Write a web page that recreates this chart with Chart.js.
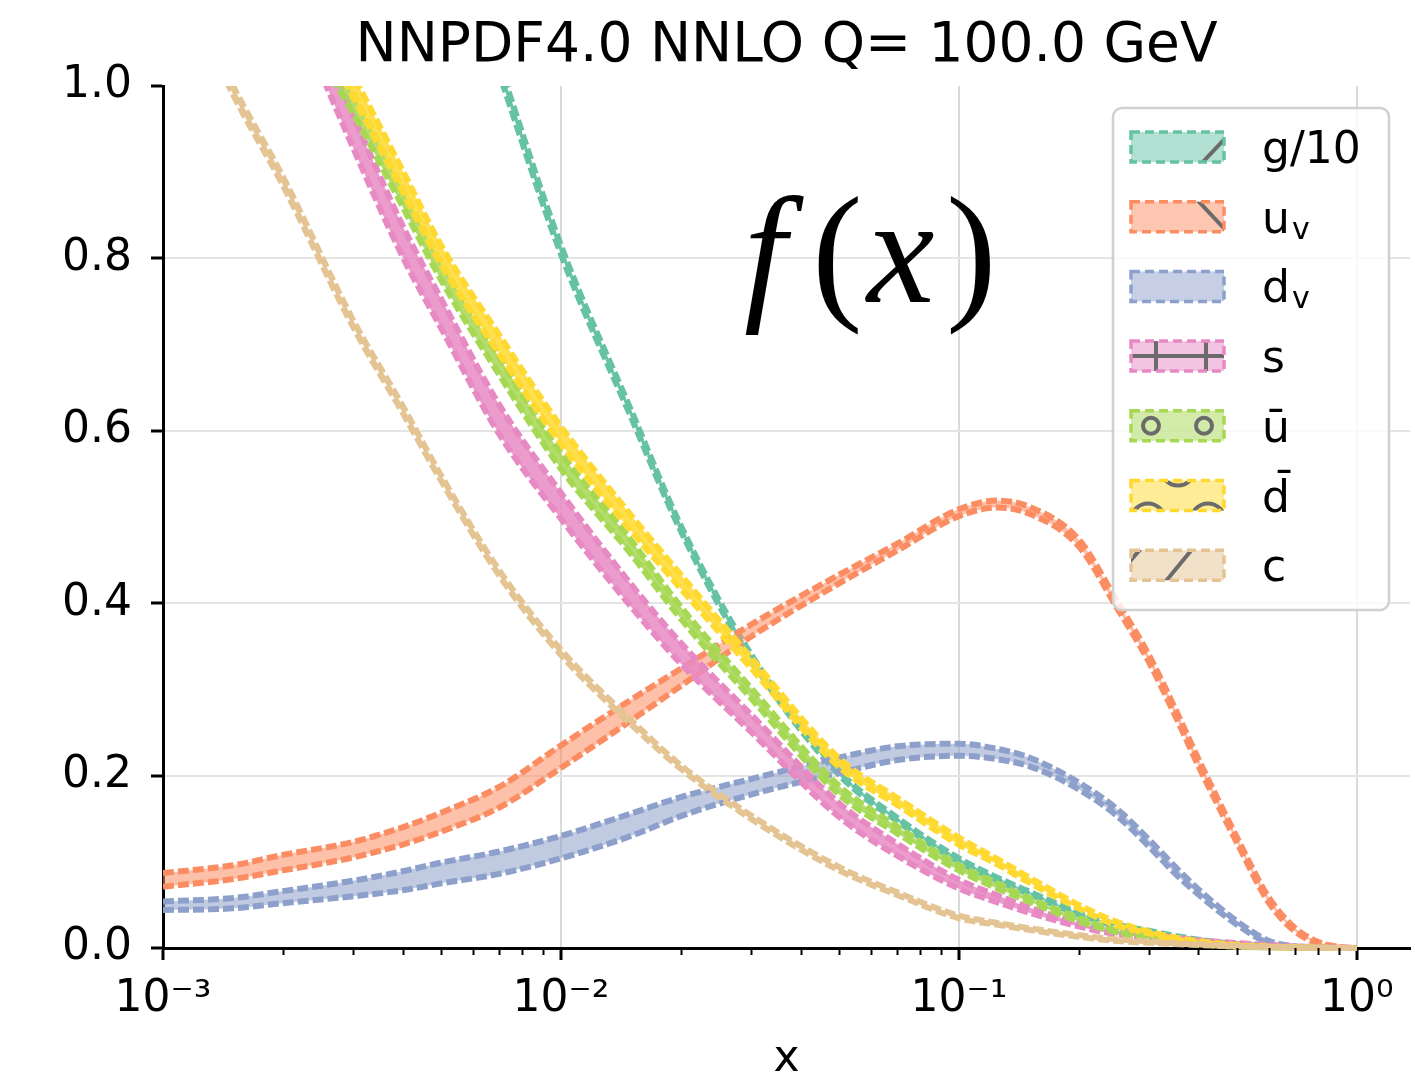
<!DOCTYPE html>
<html>
<head>
  <title>NNPDF4.0 NNLO PDFs at Q = 100 GeV</title>
  <script src="https://cdn.jsdelivr.net/npm/chart.js"></script>
  <style>
    body {
      margin: 0;
      background: #fff;
    }
    #wrap {
      width: 1415px;
      height: 1077px;
      position: relative;
    }
  </style>
</head>
<body>
  <div id="wrap"><canvas id="pdfChart"></canvas></div>

  <script>
    // x grid shared by every flavour
    const xs = [0.001, 0.0015, 0.002, 0.003, 0.004, 0.005, 0.007, 0.01, 0.015, 0.02, 0.03, 0.05, 0.07,
                0.1, 0.125, 0.15, 0.2, 0.25, 0.3, 0.35, 0.4, 0.5, 0.6, 0.7, 0.8, 0.9, 1.0];

    // central values of x*f(x) and the half width of the 1-sigma band
    const g10     = [3.0, 2.4, 2.0, 1.6, 1.38, 1.22, 1.02, 0.81, 0.62, 0.487, 0.338, 0.203, 0.149,
                     0.102, 0.08, 0.064, 0.04, 0.026, 0.019, 0.013, 0.009, 0.004, 0.002, 0.0008, 0.0003, 0.0001, 0];
    const g10Err  = [0.02, 0.015, 0.012, 0.009, 0.008, 0.007, 0.006, 0.005, 0.004, 0.003, 0.003, 0.002, 0.002,
                     0.002, 0.0015, 0.0015, 0.001, 0.001, 0.001, 0.001, 0.0007, 0.0005, 0.0003, 0.0002, 0.0001, 0, 0];
    const uv      = [0.079, 0.088, 0.099, 0.114, 0.13, 0.146, 0.175, 0.222, 0.276, 0.314, 0.368, 0.428, 0.465,
                     0.505, 0.515, 0.508, 0.47, 0.398, 0.336, 0.273, 0.215, 0.125, 0.056, 0.021, 0.006, 0.001, 0];
    const uvErr   = [0.008, 0.008, 0.009, 0.009, 0.01, 0.011, 0.012, 0.013, 0.012, 0.01, 0.007, 0.005, 0.004,
                     0.004, 0.004, 0.004, 0.004, 0.004, 0.004, 0.004, 0.004, 0.003, 0.003, 0.002, 0.001, 0.0005, 0];
    const dv      = [0.049, 0.052, 0.059, 0.069, 0.078, 0.087, 0.099, 0.117, 0.143, 0.164, 0.187, 0.212, 0.226,
                     0.23, 0.225, 0.216, 0.188, 0.157, 0.122, 0.09, 0.065, 0.029, 0.007, 0.001, 0.0003, 0.0001, 0];
    const dvErr   = [0.005, 0.006, 0.007, 0.009, 0.011, 0.012, 0.013, 0.013, 0.013, 0.011, 0.009, 0.009, 0.008,
                     0.007, 0.006, 0.005, 0.004, 0.004, 0.004, 0.004, 0.003, 0.002, 0.0015, 0.001, 0.0005, 0, 0];
    const s       = [1.5, 1.28, 1.14, 0.948, 0.82, 0.736, 0.613, 0.513, 0.409, 0.342, 0.261, 0.16, 0.114,
                     0.074, 0.057, 0.044, 0.027, 0.018, 0.014, 0.011, 0.008, 0.005, 0.003, 0.0015, 0.0008, 0.0003, 0];
    const sErr    = [0.025, 0.022, 0.02, 0.019, 0.018, 0.017, 0.017, 0.015, 0.013, 0.012, 0.01, 0.008, 0.007,
                     0.005, 0.004, 0.003, 0.002, 0.002, 0.0015, 0.001, 0.001, 0.0007, 0.0005, 0.0003, 0.0002, 0.0001, 0];
    const ubar    = [1.45, 1.27, 1.12, 0.98, 0.87, 0.785, 0.675, 0.565, 0.465, 0.389, 0.296, 0.183, 0.137,
                     0.093, 0.072, 0.056, 0.033, 0.019, 0.012, 0.008, 0.005, 0.002, 0.001, 0.0005, 0.0002, 0.0001, 0];
    const ubarErr = [0.014, 0.013, 0.012, 0.011, 0.01, 0.01, 0.01, 0.009, 0.008, 0.007, 0.006, 0.005, 0.004,
                     0.003, 0.003, 0.002, 0.002, 0.001, 0.001, 0.001, 0.0007, 0.0005, 0.0003, 0.0002, 0.0001, 0, 0];
    const dbar    = [1.5, 1.3, 1.14, 1.0, 0.89, 0.804, 0.70, 0.595, 0.493, 0.425, 0.331, 0.215, 0.17,
                     0.124, 0.1, 0.079, 0.048, 0.028, 0.018, 0.011, 0.007, 0.003, 0.0015, 0.0007, 0.0003, 0.0001, 0];
    const dbarErr = [0.016, 0.014, 0.013, 0.012, 0.012, 0.011, 0.011, 0.01, 0.009, 0.008, 0.006, 0.005, 0.004,
                     0.004, 0.003, 0.003, 0.002, 0.002, 0.001, 0.001, 0.001, 0.0005, 0.0003, 0.0002, 0.0001, 0, 0];
    const c       = [1.17, 0.995, 0.89, 0.725, 0.625, 0.545, 0.435, 0.343, 0.262, 0.21, 0.152, 0.092, 0.063,
                     0.036, 0.028, 0.022, 0.014, 0.009, 0.007, 0.005, 0.004, 0.002, 0.001, 0.0005, 0.0002, 0.0001, 0];
    const cErr    = [0.006, 0.005, 0.005, 0.004, 0.004, 0.003, 0.003, 0.003, 0.0025, 0.002, 0.002, 0.002, 0.0015,
                     0.0015, 0.001, 0.001, 0.001, 0.001, 0.0008, 0.0005, 0.0005, 0.0003, 0.0002, 0.0001, 0, 0, 0];

    const yTicks = [0, 0.2, 0.4, 0.6, 0.8, 1.0];

    // legend text (main part + subscript) and hatch style per flavour
    const labels  = ['g/10', 'u', 'd', 's', '\u016b', 'd\u0304', 'c'];
    const subs    = ['', 'v', 'v', '', '', '', ''];
    const hatches = ['/', '\\', '', '+', 'o', 'O', '/-'];
    const colors  = ['#66c2a5', '#fc8d62', '#8da0cb', '#e78ac3', '#a6d854', '#ffd92f', '#e5c494'];
    const bandAlpha = [0.85, 0.55, 0.55, 0.85, 0.85, 0.85, 0.85];

    const centrals = [g10, uv, dv, s, ubar, dbar, c];
    const errors   = [g10Err, uvErr, dvErr, sErr, ubarErr, dbarErr, cErr];

    Chart.defaults.font.family = 'DejaVu Sans';
    Chart.defaults.color = '#000';

    function withAlpha(hex, a) {
      const n = parseInt(hex.slice(1), 16);
      return `rgba(${(n >> 16) & 255}, ${(n >> 8) & 255}, ${n & 255}, ${a})`;
    }

    // every flavour is a band: upper edge filled down to lower edge, both dashed
    const datasets = [];
    centrals.forEach((vals, i) => {
      const common = {
        borderColor: colors[i],
        borderWidth: 6,
        borderDash: [11, 4],
        pointRadius: 0,
        cubicInterpolationMode: 'monotone',
        clip: {left: 0, top: 0, right: 0, bottom: 4},
        order: centrals.length - i
      };
      datasets.push({
        ...common,
        label: labels[i] + subs[i],
        data: xs.map((x, k) => ({x, y: vals[k] + errors[i][k]})),
        fill: '+1',
        backgroundColor: withAlpha(colors[i], bandAlpha[i])
      });
      datasets.push({
        ...common,
        label: labels[i] + subs[i] + ' low',
        data: xs.map((x, k) => ({x, y: Math.max(vals[k] - errors[i][k], 0)})),
        fill: false
      });
    });

    const SUP = {'-': '\u207b', '0': '\u2070', '1': '\u00b9', '2': '\u00b2', '3': '\u00b3'};
    function isDecade(v) {
      const l = Math.log10(v);
      return Math.abs(l - Math.round(l)) < 1e-9;
    }

    // small ticks at 2..9 of each decade
    const minorTicks = {
      id: 'minorTicks',
      afterDraw(chart) {
        const sx = chart.scales.x;
        const ctx = chart.ctx;
        ctx.save();
        ctx.strokeStyle = '#000';
        ctx.lineWidth = 2;
        sx.ticks.forEach(t => {
          if (t.value > 1 || isDecade(t.value)) return;
          const m = t.value / Math.pow(10, Math.floor(Math.log10(t.value) + 1e-9));
          if (Math.abs(m - Math.round(m)) > 1e-6) return;
          const px = Math.round(sx.getPixelForValue(t.value)) + 0.5;
          ctx.beginPath();
          ctx.moveTo(px, sx.top);
          ctx.lineTo(px, sx.top + 7);
          ctx.stroke();
        });
        ctx.restore();
      }
    };

    function drawHatch(ctx, type, x, y, w, h) {
      ctx.save();
      ctx.beginPath();
      ctx.rect(x, y, w, h);
      ctx.clip();
      ctx.strokeStyle = '#6b6b6b';
      ctx.lineWidth = 4;
      ctx.lineCap = 'butt';
      const line = (x1, y1, x2, y2) => { ctx.beginPath(); ctx.moveTo(x1, y1); ctx.lineTo(x2, y2); ctx.stroke(); };
      if (type === '/') {
        line(x + 70, y + h + 2, x + 102, y - 2);
      } else if (type === '\\') {
        line(x + 66, y - 2, x + 98, y + h + 2);
      } else if (type === '+') {
        line(x, y + h / 2, x + w, y + h / 2);
        line(x + 25, y, x + 25, y + h);
        line(x + 75, y, x + 75, y + h);
      } else if (type === 'o') {
        [x + 20, x + 73].forEach(cx => { ctx.beginPath(); ctx.arc(cx, y + h / 2, 8, 0, Math.PI * 2); ctx.stroke(); });
      } else if (type === 'O') {
        [[x + 17, y + h + 10], [x + 77, y + h + 10], [x + 47, y - 12]].forEach(([cx, cy]) => {
          ctx.beginPath(); ctx.arc(cx, cy, 17, 0, Math.PI * 2); ctx.stroke();
        });
      } else if (type === '/-') {
        line(x + 34, y + h + 2, x + 62, y - 2);
        line(x - 2, y + 12, x + 12, y - 4);
      }
      ctx.restore();
    }

    // framed legend with hatched patches, plus the f(x) annotation
    const pdfLegend = {
      id: 'pdfLegend',
      afterDraw(chart) {
        const {ctx, chartArea: a} = chart;
        const bx = a.right - 297, by = a.top + 22, bw = 276, bh = 502;
        ctx.save();
        ctx.beginPath();
        ctx.roundRect(bx, by, bw, bh, 9);
        ctx.fillStyle = 'rgba(255, 255, 255, 0.8)';
        ctx.fill();
        ctx.strokeStyle = '#d0d0d0';
        ctx.lineWidth = 2.5;
        ctx.stroke();

        labels.forEach((lab, i) => {
          const cy = by + 39 + i * 69.7;
          const px = bx + 18, pw = 93, ph = 30, py = cy - ph / 2;
          ctx.fillStyle = withAlpha(colors[i], 0.5);
          ctx.fillRect(px, py, pw, ph);
          drawHatch(ctx, hatches[i], px, py, pw, ph);
          ctx.setLineDash([9, 5]);
          ctx.strokeStyle = colors[i];
          ctx.lineWidth = 3.5;
          ctx.strokeRect(px, py, pw, ph);
          ctx.setLineDash([]);

          ctx.fillStyle = '#000';
          ctx.textAlign = 'left';
          ctx.textBaseline = 'alphabetic';
          ctx.font = '44px "DejaVu Sans"';
          const tx = bx + 149;
          ctx.fillText(lab, tx, cy + 16);
          if (subs[i]) {
            const wMain = ctx.measureText(lab).width;
            ctx.font = '30px "DejaVu Sans"';
            ctx.fillText(subs[i], tx + wMain + 2, cy + 22);
          }
        });

        // f(x) written glyph by glyph, ink left edges placed explicitly
        const glyphs = [['f', 'italic'], ['(', 'normal'], ['x', 'italic'], [')', 'normal']];
        const lefts = [582, 655, 702, 787];
        const base = a.top + 216;
        glyphs.forEach(([ch, style], k) => {
          ctx.font = `${style} 152px "Liberation Serif"`;
          const m = ctx.measureText(ch);
          ctx.fillText(ch, a.left + lefts[k] + m.actualBoundingBoxLeft, base);
        });
        ctx.restore();
      }
    };

    new Chart(document.getElementById('pdfChart'), {
      type: 'line',
      data: {datasets},
      options: {
        responsive: true,
        maintainAspectRatio: false,
        animation: false,
        layout: {autoPadding: false, padding: {right: 0}},
        plugins: {
          legend: {display: false},
          tooltip: {enabled: false},
          title: {
            display: true,
            text: 'NNPDF4.0 NNLO Q= 100.0 GeV',
            fullSize: false,
            color: '#000',
            font: {size: 55, weight: 'normal'},
            padding: {top: 14, bottom: 6}
          }
        },
        scales: {
          x: {
            type: 'logarithmic',
            min: 0.001,
            max: 1.36,
            afterFit: sc => { sc.height = 129; },
            border: {display: true, color: '#000', width: 3},
            grid: {
              color: ctx => (ctx.tick && isDecade(ctx.tick.value) && ctx.tick.value > 0.0011) ? '#dadada' : 'transparent',
              lineWidth: 2,
              tickLength: 12,
              tickWidth: 3,
              tickColor: ctx => (ctx.tick && isDecade(ctx.tick.value)) ? '#000' : 'transparent'
            },
            ticks: {
              autoSkip: false,
              maxRotation: 0,
              padding: 5,
              font: {size: 44, lineHeight: 1.56},
              callback: v => {
                if (!isDecade(v)) return '';
                const e = String(Math.round(Math.log10(v)));
                return '10' + e.split('').map(ch => SUP[ch]).join('');
              }
            },
            title: {
              display: true,
              text: 'x',
              font: {size: 44, lineHeight: 1},
              padding: {top: 0, bottom: -5}
            }
          },
          y: {
            min: 0,
            max: 1,
            afterFit: sc => { sc.width = 163; },
            afterBuildTicks: sc => { sc.ticks = yTicks.map(v => ({value: v})); },
            border: {display: true, color: '#000', width: 3},
            grid: {
              color: ctx => (ctx.tick && ctx.tick.value > 0 && ctx.tick.value < 1) ? '#e4e4e4' : 'transparent',
              lineWidth: 2,
              tickLength: 12,
              tickWidth: 3,
              tickColor: '#000'
            },
            ticks: {
              padding: 19,
              font: {size: 44},
              callback: v => Number(v).toFixed(1)
            }
          }
        }
      },
      plugins: [minorTicks, pdfLegend]
    });
  </script>
</body>
</html>
